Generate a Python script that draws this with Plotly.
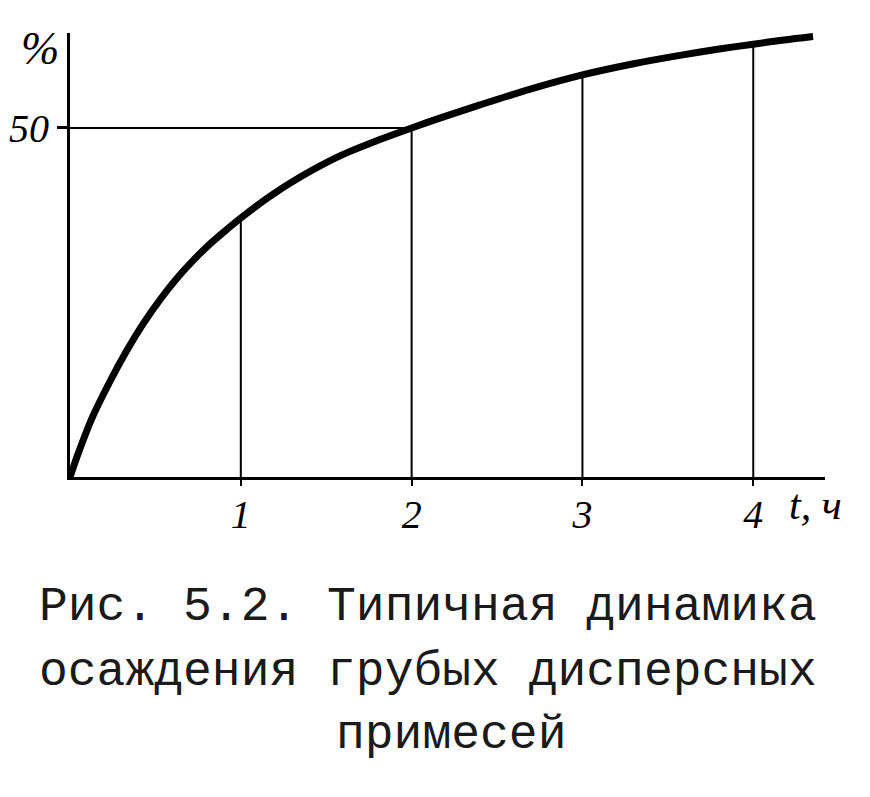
import plotly.graph_objects as go

# Data
t_hours = [0, 0.05, 0.13, 0.23, 0.33, 0.43, 0.53, 0.62, 0.72, 0.82, 0.92, 1.0, 1.17, 1.35, 1.58, 1.81, 2.0, 2.2, 2.4, 2.7, 3.0, 3.3, 3.57, 3.8, 4.0, 4.18, 4.35]
percent = [0, 3.5, 8.5, 13.5, 18.0, 22.0, 25.5, 28.3, 31.0, 33.4, 35.5, 37.1, 40.2, 43.0, 46.0, 48.3, 50.0, 51.7, 53.3, 55.6, 57.6, 59.2, 60.4, 61.3, 62.0, 62.6, 63.1]
x_ticks = [1, 2, 3, 4]
x_tick_labels = ["1", "2", "3", "4"]
y_ticks = [50]
y_tick_labels = ["50"]
ref_level = 50
caption_lines = ["Рис. 5.2. Типичная динамика", "осаждения грубых дисперсных", "примесей"]

hand_font = "Liberation Serif"
ink = "black"

fig = go.Figure()

# guide lines: vertical at each hour tick up to the curve
for tv in x_ticks:
    yv = percent[t_hours.index(tv)]
    fig.add_trace(go.Scatter(x=[tv, tv], y=[0, yv], mode="lines",
                             line=dict(color=ink, width=2), hoverinfo="skip", showlegend=False))
# horizontal at 50%
t50 = t_hours[percent.index(ref_level)]
fig.add_trace(go.Scatter(x=[0, t50], y=[ref_level, ref_level], mode="lines",
                         line=dict(color=ink, width=2), hoverinfo="skip", showlegend=False))

# main curve
fig.add_trace(go.Scatter(x=t_hours, y=percent, mode="lines",
                         line=dict(color=ink, width=7, shape="spline", smoothing=0.8),
                         showlegend=False))

fig.update_layout(
    width=870, height=797,
    margin=dict(l=62, r=53, t=25, b=328, autoexpand=False),
    paper_bgcolor="white", plot_bgcolor="white",
    xaxis=dict(range=[0, 4.42], showgrid=False, zeroline=False, automargin=False,
               showline=True, linecolor=ink, linewidth=3,
               tickvals=x_ticks, ticktext=x_tick_labels,
               ticks="outside", ticklen=6, tickwidth=2, tickcolor=ink, ticklabelstandoff=-6,
               tickfont=dict(family=hand_font, size=40, color=ink, style="italic")),
    yaxis=dict(range=[0, 63.6], showgrid=False, zeroline=False, automargin=False,
               showline=True, linecolor=ink, linewidth=3,
               tickvals=y_ticks, ticktext=y_tick_labels,
               ticks="outside", ticklen=10, tickwidth=3, tickcolor=ink, ticklabelstandoff=0,
               tickfont=dict(family=hand_font, size=40, color=ink, style="italic")),
)

fig.add_annotation(text="t, ч", xref="paper", yref="paper", x=0.95, y=-0.062,
                   xanchor="left", yanchor="middle", showarrow=False,
                   font=dict(family=hand_font, size=42, color=ink, style="italic"))
fig.add_annotation(text="%", xref="paper", yref="paper", x=-0.04, y=0.965,
                   xanchor="center", yanchor="middle", showarrow=False,
                   font=dict(family=hand_font, size=46, color=ink, style="italic"))

cap_pos = [(0.474, -0.293), (0.474, -0.439), (0.505, -0.581)]
for line, (cx, cy) in zip(caption_lines, cap_pos):
    fig.add_annotation(text=line, xref="paper", yref="paper", x=cx, y=cy,
                       xanchor="center", yanchor="middle", showarrow=False,
                       font=dict(family="Liberation Mono", size=48, color="#1a1a1a"))

fig.write_html("out.html")
